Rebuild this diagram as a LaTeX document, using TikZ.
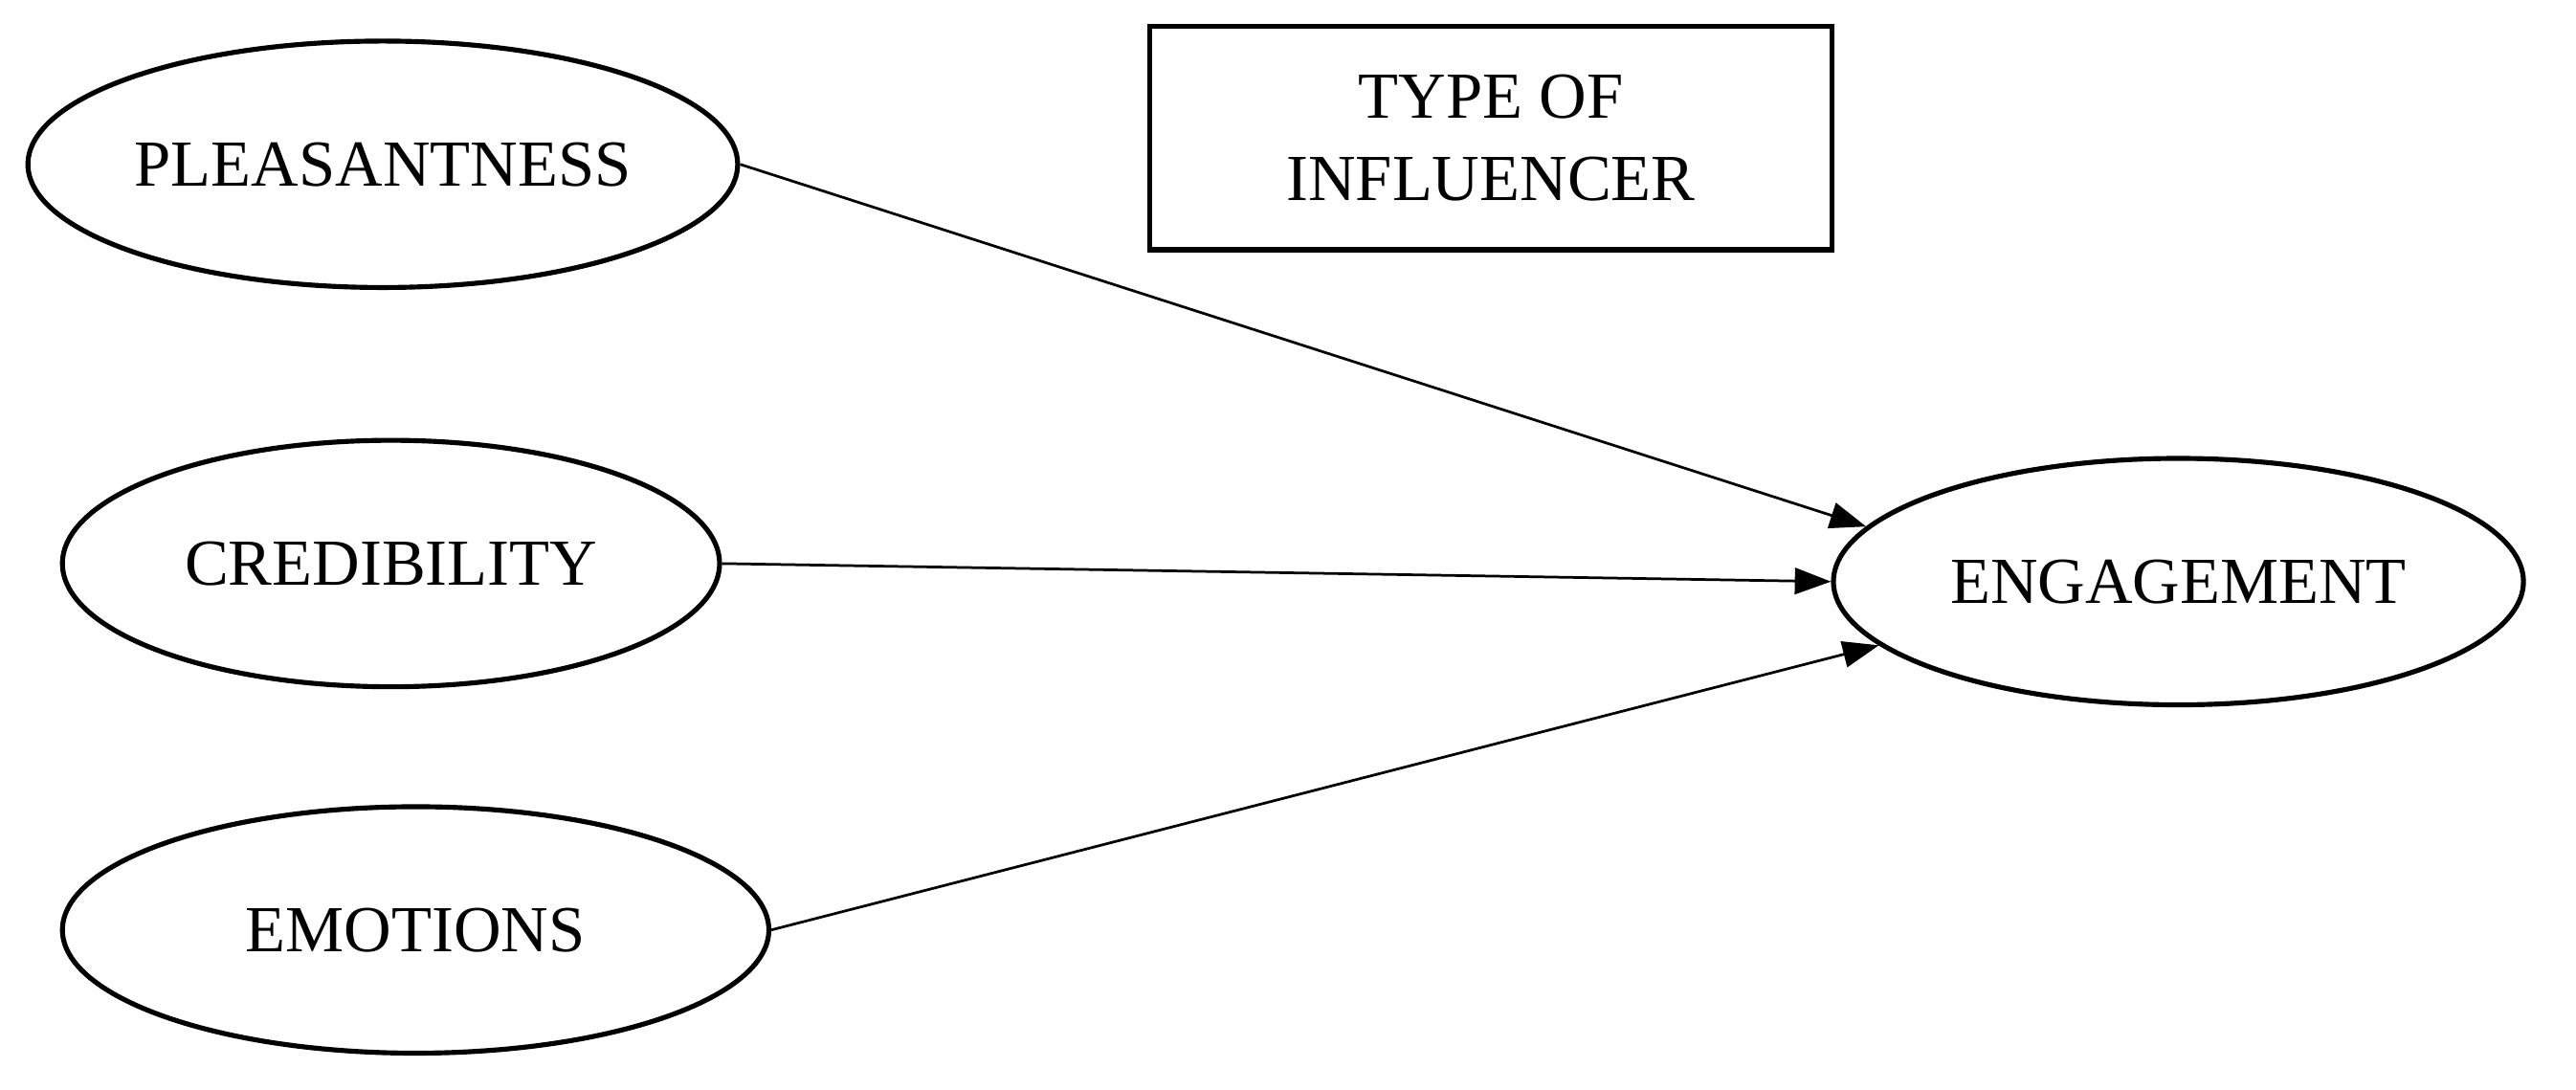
\documentclass[tikz,border=0pt]{standalone}
\usepackage{fontspec}
\setmainfont{Liberation Serif}
\usetikzlibrary{shapes.geometric,arrows.meta}
\begin{document}
\begin{tikzpicture}[x=1pt,y=-1pt,
  ell/.style={draw,ellipse,line width=3pt,minimum width=#1,minimum height=150pt,inner sep=0pt,font=\fontsize{40}{46}\selectfont},
  arr/.style={line width=1.6pt,-{Triangle[length=22pt,width=16pt]}}]
\useasboundingbox (0,0) rectangle (1568,663);
\node[ell=432pt] (p) at (233,100) {PLEASANTNESS};
\node[ell=400pt] (c) at (238,343) {CREDIBILITY};
\node[ell=430pt] (m) at (253,566) {EMOTIONS};
\node[ell=420pt] (e) at (1326,354) {ENGAGEMENT};
\node[draw,line width=3pt,minimum width=415pt,minimum height=136pt,align=center,font=\fontsize{40}{50}\selectfont] (t) at (907.5,84) {TYPE OF\\INFLUENCER};
\draw[arr] (p.east) -- (e.170.8);
\draw[arr] (c.east) -- (e.180);
\draw[arr] (m.east) -- (e.192.9);
\end{tikzpicture}
\end{document}
